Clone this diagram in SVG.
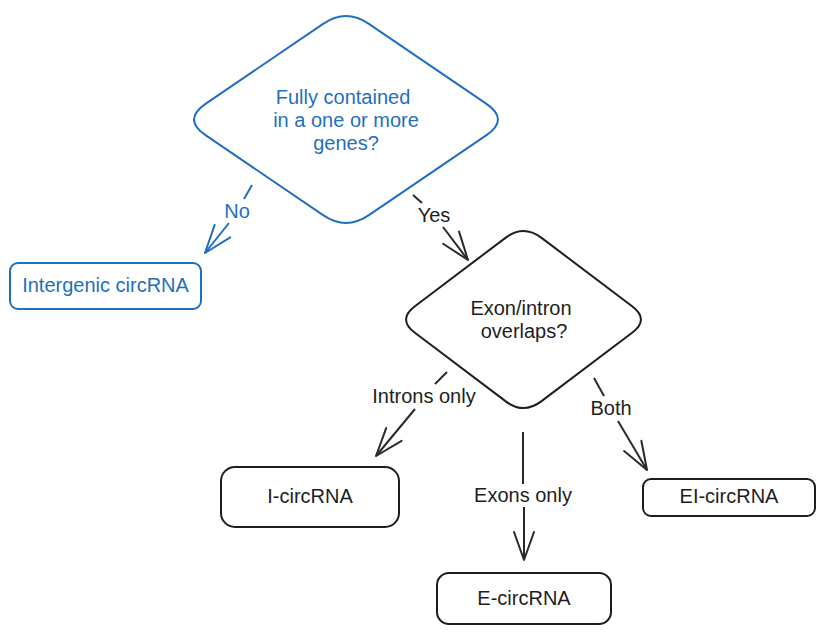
<svg xmlns="http://www.w3.org/2000/svg" width="825" height="633" viewBox="0 0 825 633">
<style>
text{font-family:"Liberation Sans",Arial,sans-serif;font-size:20px;text-anchor:middle}
.blue{fill:#1f6fc0}
.dark{fill:#1e1e1e}
.shapeB{fill:#fff;stroke:#1f6fc0;stroke-width:2}
.shapeK{fill:#fff;stroke:#1e1e1e;stroke-width:2}
.edgeB{fill:none;stroke:#1f6fc0;stroke-width:2}
.edgeK{fill:none;stroke:#2a2a2a;stroke-width:2}
</style>
<defs>
<marker id="arrB" markerUnits="userSpaceOnUse" viewBox="-32 -14 36 28" refX="0" refY="0" markerWidth="36" markerHeight="28" orient="auto" overflow="visible">
<path d="M-28,-10 L0,0 L-28,10" fill="none" stroke="#1f6fc0" stroke-width="2" stroke-linecap="round" stroke-linejoin="round"/>
</marker>
<marker id="arrK" markerUnits="userSpaceOnUse" viewBox="-32 -14 36 28" refX="0" refY="0" markerWidth="36" markerHeight="28" orient="auto" overflow="visible">
<path d="M-28,-10 L0,0 L-28,10" fill="none" stroke="#2a2a2a" stroke-width="2" stroke-linecap="round" stroke-linejoin="round"/>
</marker>
</defs>
<rect width="825" height="633" fill="#fff"/>
<g id="connectors">
<g id="edge-no">
<path class="edgeB" d="M252,185 L244,199"/>
<path class="edgeB" d="M229,223 L205,253" marker-end="url(#arrB)"/>
<text class="blue" x="237" y="218">No</text>
</g>
<g id="edge-yes">
<path class="edgeK" d="M413,195 L422,203"/>
<path class="edgeK" d="M443,227 L468,260" marker-end="url(#arrK)"/>
<text class="dark" x="434" y="222">Yes</text>
</g>
<g id="edge-introns">
<path class="edgeK" d="M447,372 L435,384"/>
<path class="edgeK" d="M415,409 L376,456" marker-end="url(#arrK)"/>
<text class="dark" x="424" y="403">Introns only</text>
</g>
<g id="edge-exons">
<path class="edgeK" d="M523,432 L523,484"/>
<path class="edgeK" d="M524,507 L524,560" marker-end="url(#arrK)"/>
<text class="dark" x="523" y="502">Exons only</text>
</g>
<g id="edge-both">
<path class="edgeK" d="M594,378 L604,396"/>
<path class="edgeK" d="M618,421 L647,470" marker-end="url(#arrK)"/>
<text class="dark" x="611" y="415">Both</text>
</g>
</g>
<g id="node-genes">
<path class="shapeB" d="M368.9,23.8 L486.5,103.9 Q509.4,119.5 486.5,135.1 L368.9,215.2 Q346,230.8 323.1,215.2 L205.5,135.1 Q182.6,119.5 205.5,103.9 L323.1,23.8 Q346,8.2 368.9,23.8 Z"/>
<text class="blue" x="343" y="104">Fully contained</text>
<text class="blue" x="346" y="127">in a one or more</text>
<text class="blue" x="346" y="150">genes?</text>
</g>
<g id="node-intergenic">
<rect class="shapeB" x="10" y="263" width="191" height="46" rx="8"/>
<text class="blue" x="105.5" y="292">Intergenic circRNA</text>
</g>
<g id="node-overlaps">
<path class="shapeK" d="M541.2,237.6 L632.1,306.2 Q649.8,319.5 632.1,332.8 L541.2,401.4 Q523.5,414.7 505.8,401.4 L414.9,332.8 Q397.2,319.5 414.9,306.2 L505.8,237.6 Q523.5,224.3 541.2,237.6 Z"/>
<text class="dark" x="521" y="315">Exon/intron</text>
<text class="dark" x="524" y="338">overlaps?</text>
</g>
<g id="node-i">
<rect class="shapeK" x="221" y="467" width="178" height="60" rx="14"/>
<text class="dark" x="310" y="503">I-circRNA</text>
</g>
<g id="node-e">
<rect class="shapeK" x="437" y="573" width="174" height="51" rx="12"/>
<text class="dark" x="524" y="605">E-circRNA</text>
</g>
<g id="node-ei">
<rect class="shapeK" x="643" y="479" width="172" height="37" rx="8"/>
<text class="dark" x="729" y="503">EI-circRNA</text>
</g>
</svg>
